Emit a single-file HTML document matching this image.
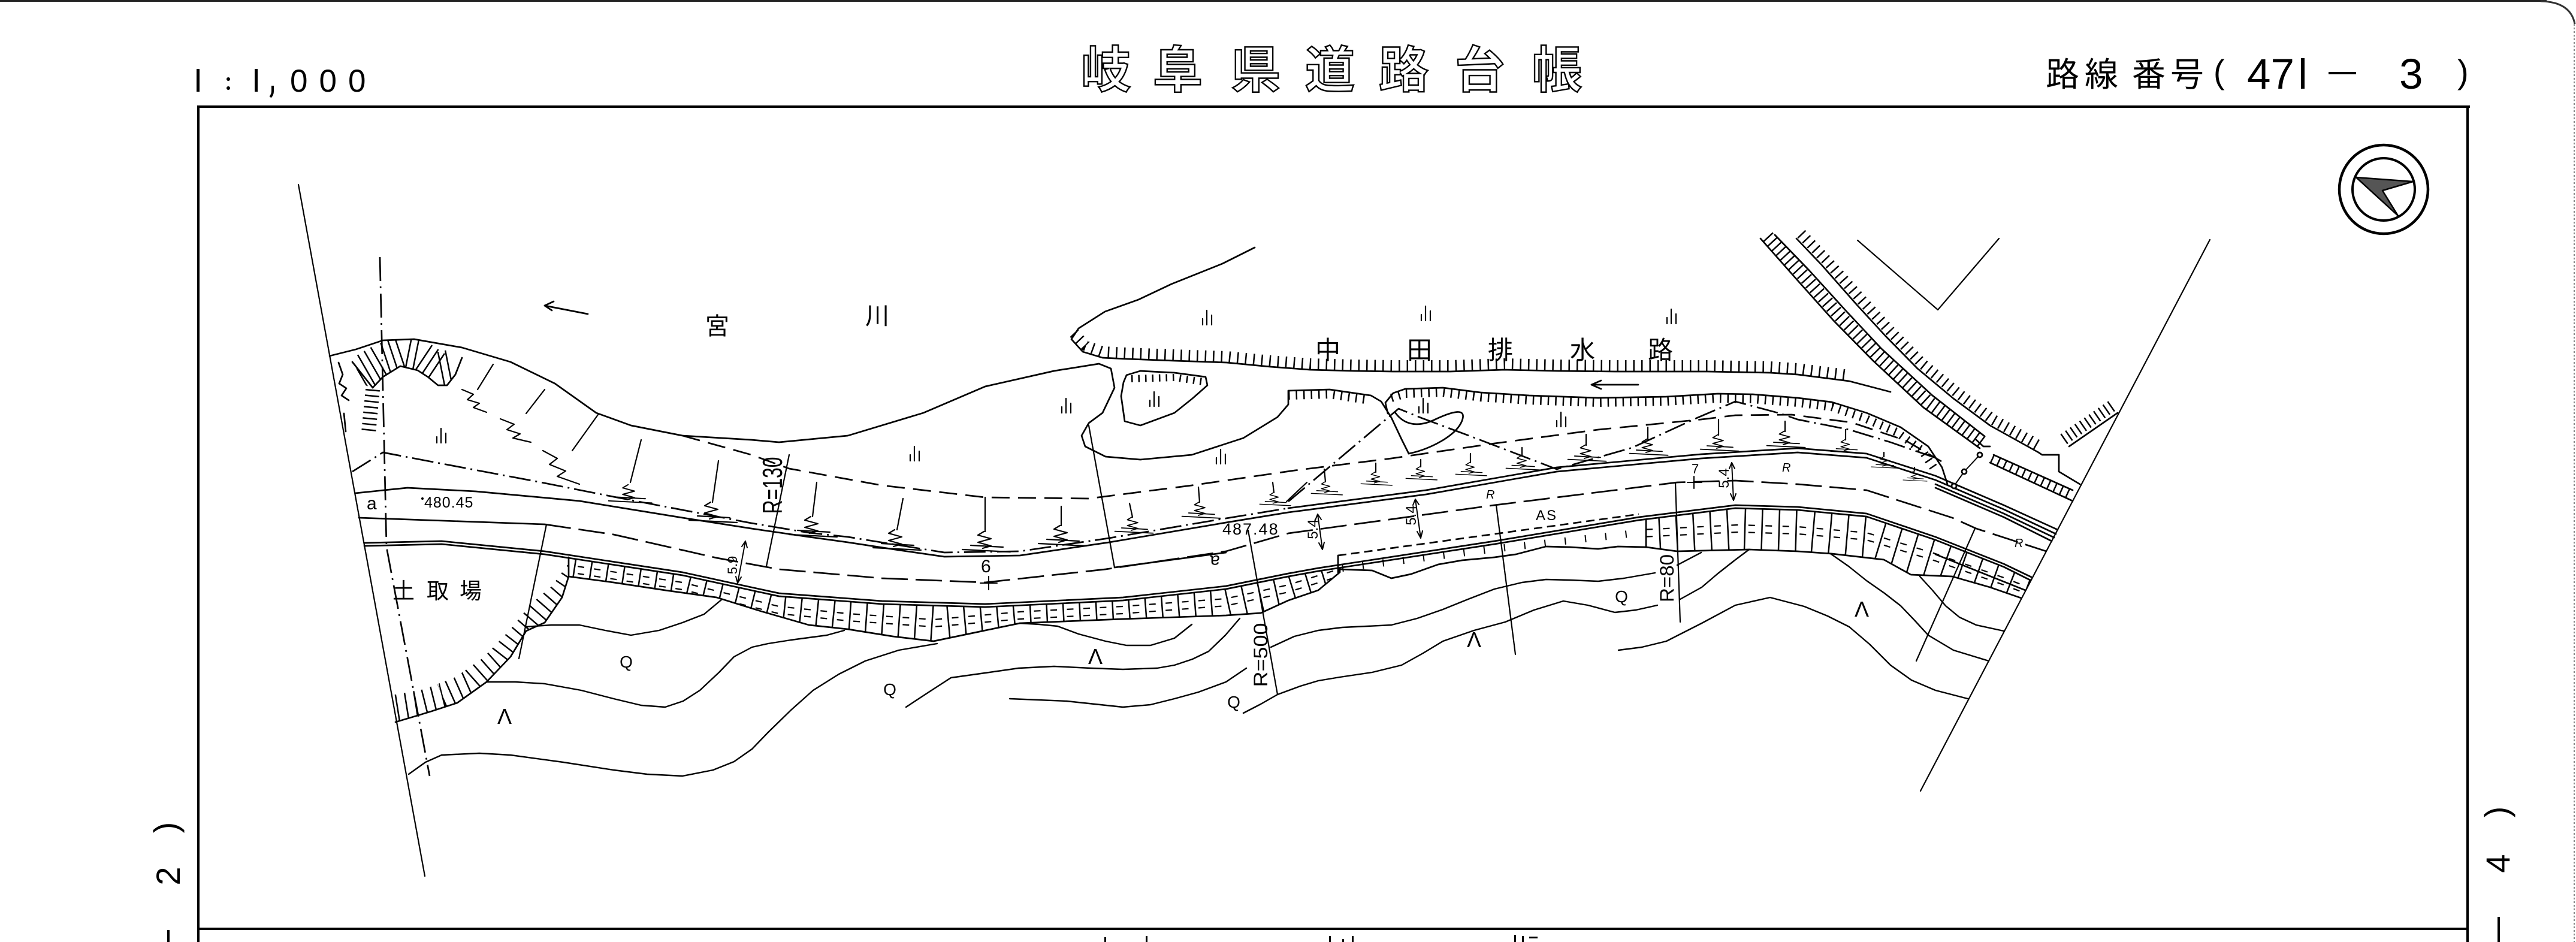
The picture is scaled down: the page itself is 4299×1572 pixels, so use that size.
<!DOCTYPE html>
<html><head><meta charset="utf-8">
<style>
html,body{margin:0;padding:0;background:#fff;}
svg{display:block;}
text{font-family:"Liberation Sans","Noto Sans CJK JP",sans-serif;}
.cjk{font-family:"Liberation Sans","Noto Sans CJK JP",sans-serif;}
</style></head><body>
<svg width="4299" height="1572" viewBox="0 0 4299 1572" xmlns="http://www.w3.org/2000/svg">
<rect width="4299" height="1572" fill="#fff"/>
<defs>
 <clipPath id="cb1"><polygon points="949,931 1139,960 1300,995 1472,1008 1644,1013 1874,1002 2046,983 2150,962 2200,953 2236,948 2236,955 2200,985 2150,1002 2104,1023 2046,1027 1874,1033 1702,1040 1630,1055 1558,1070 1490,1062 1415,1050 1350,1043 1270,1020 1196,997 1110,985 1024,972 949,962"/></clipPath>
 <clipPath id="cb2"><polygon points="2747,868 2896,848 3000,851 3115,862 3230,901 3344,946 3392,968 3373,998 3321,980 3258,962 3189,959 3144,934 3057,924 3000,920 2919,917 2799,920 2747,913"/></clipPath>
 <clipPath id="cb3"><polygon points="949,962 938,997 909,1039 878,1053 852,1096 812,1138 763,1173 720,1187 697,1194 660,1205 655,1160 708,1150 760,1130 806,1098 852,1050 886,1008 921,978 949,940"/></clipPath>
 <clipPath id="cb4"><polygon points="588,585 639,568 691,566 771,580 771,597 760,625 746,643 731,643 714,629 697,618 668,611 639,629 622,647 600,640"/></clipPath>
 <g id="zz"><polyline points="-2,-28 -12,-22 10,-16 -12,-10 10,-4 -4,0"/><line x1="-38" y1="2" x2="42" y2="6"/><line x1="-24" y1="-5" x2="30" y2="-2"/></g>
 <g id="ili"><path d="M-8,2V12 M-1,-12V12 M7,-4V12"/></g>
</defs>

<!-- page edges -->
<rect x="0" y="0" width="4250" height="3" fill="#222"/>
<path d="M4240,2 Q4290,3 4297,40" fill="none" stroke="#333" stroke-width="3"/>
<line x1="4296" y1="40" x2="4296" y2="1572" stroke="#888" stroke-width="2" stroke-dasharray="3 3"/>

<!-- header -->
<rect x="328" y="115" width="5" height="38" fill="#000"/>
<circle cx="381" cy="132" r="3" fill="#000"/><circle cx="381" cy="147" r="3" fill="#000"/>
<rect x="425" y="115" width="5" height="38" fill="#000"/>
<path d="M455,143 v9 q0,6 -4,10" fill="none" stroke="#000" stroke-width="4"/>
<text x="484" y="153" font-size="53" letter-spacing="19" fill="#000">000</text>

<g class="cjk" font-size="83" font-weight="700" fill="#fff" stroke="#000" stroke-width="2.4">
 <text x="1804" y="146">岐</text><text x="1924" y="146">阜</text><text x="2054" y="146">県</text><text x="2178" y="146">道</text><text x="2301" y="146">路</text><text x="2428" y="146">台</text><text x="2557" y="146">帳</text>
</g>

<g class="cjk" font-size="56" fill="#000">
 <text x="3414" y="144">路</text><text x="3479" y="144">線</text><text x="3558" y="144">番</text><text x="3622" y="144">号</text>
</g>
<text x="3694" y="139" font-size="56" fill="#000">(</text>
<text x="3750" y="148" font-size="71" fill="#000">47</text>
<rect x="3840" y="97" width="6" height="51" fill="#000"/>
<rect x="3886" y="120" width="46" height="4" fill="#000"/>
<text x="4004" y="148" font-size="71" fill="#000">3</text>
<text x="4101" y="139" font-size="56" fill="#000">)</text>

<!-- frame -->
<g fill="#000">
 <rect x="329" y="176" width="3793" height="4"/>
 <rect x="329" y="176" width="4" height="1396"/>
 <rect x="4116" y="176" width="4" height="1396"/>
 <rect x="329" y="1548" width="3791" height="4"/>
</g>

<!-- side labels -->
<g font-size="56" fill="#000" text-anchor="middle">
 <text transform="translate(296,1381) rotate(-90)">)</text>
 <text transform="translate(300,1462) rotate(-90)">2</text>
 <text transform="translate(4186,1355) rotate(-90)">)</text>
 <text transform="translate(4188,1441) rotate(-90)">4</text>
</g>
<rect x="279" y="1552" width="4" height="20" fill="#000"/>
<rect x="4168" y="1530" width="4" height="42" fill="#000"/>
<g fill="#000">
 <rect x="1843" y="1564" width="3" height="8"/><rect x="1912" y="1562" width="3" height="10"/>
 <rect x="2218" y="1562" width="3" height="10"/><rect x="2240" y="1567" width="3" height="5"/><rect x="2256" y="1562" width="3" height="10"/>
 <rect x="2527" y="1560" width="3" height="12"/><rect x="2540" y="1562" width="3" height="10"/><rect x="2552" y="1563" width="14" height="3"/>
</g>

<!-- compass -->
<circle cx="3978" cy="316" r="74" fill="none" stroke="#000" stroke-width="4.5"/>
<circle cx="3978" cy="316" r="52" fill="none" stroke="#000" stroke-width="4"/>
<polygon points="3932,296 4027,303 3976,318 4002,360" fill="#555" stroke="#000" stroke-width="2.5" stroke-linejoin="round"/>

<!-- MAP -->
<g fill="none" stroke="#000" stroke-width="2.7" stroke-linejoin="round" stroke-linecap="round">
 <!-- boundaries -->
 <line x1="498" y1="308" x2="709" y2="1462" stroke-width="2.2"/>
 <line x1="3688" y1="400" x2="3205" y2="1320" stroke-width="2.2"/>
 <polyline points="634,429 645,913 717,1295" stroke-dasharray="40 9 3 9" stroke-linecap="butt"/>

 <!-- river bank -->
 <polyline points="550,594 594,583 639,568 691,566 771,580 852,604 926,640 995,689 1053,710 1139,727 1254,734 1300,738 1415,727 1541,689 1644,645 1759,619 1834,607 1854,615 1860,647 1840,689 1817,706 1805,727 1811,745 1845,762 1903,767 1989,759 2075,731 2132,696 2150,675 2150,652 2219,650 2288,660 2305,670 2322,697 2339,733 2351,757"/>
 <polyline points="2150,660 2219,658 2285,668" stroke-width="14" stroke-dasharray="2.5 10" stroke-linecap="butt"/>
 <polyline points="622,647 639,629 668,611 697,618 714,629 731,643 746,643 760,625 771,597"/>
 <polyline points="600,625 640,602 670,592 700,598 730,618 760,612" stroke-width="60" stroke-dasharray="2.5 10" stroke-linecap="butt" clip-path="url(#cb4)"/>
 <polyline points="565,605 572,625 566,640 578,648 570,660 582,668"/>
 <line x1="588" y1="604" x2="622" y2="647"/>
 <polyline points="622,650 615,722" stroke-width="24" stroke-dasharray="2.5 7" stroke-linecap="butt"/>
 <line x1="574" y1="690" x2="577" y2="720"/>

 <!-- island -->
 <polyline points="1880,626 1903,619 1960,622 2012,629 2015,643 1990,665 1960,689 1903,710 1877,703 1871,661 1875,638 1880,626"/>
 <polyline points="1888,632 1960,630 2008,637" stroke-width="12" stroke-dasharray="2.5 9" stroke-linecap="butt"/>

 <!-- north bank of drainage -->
 <polyline points="2094,413 2040,440 1955,474 1900,500 1844,520 1800,548 1788,566 1807,587 1840,597 1881,599 1960,602 2047,605 2120,612 2186,617 2260,619 2325,620 2420,620 2510,617 2600,619 2695,620 2780,620 2850,620 2954,622 3000,625 3086,636 3155,654"/>
 <polyline points="1792,556 1812,577 1840,587 1881,589 1960,592 2047,595 2120,602 2186,607 2260,609 2325,610 2420,610 2510,607 2600,609 2695,610 2780,610 2850,610 2954,612 3000,615 3086,626" stroke-width="18" stroke-dasharray="2.5 11" stroke-linecap="butt"/>
 <!-- south bank B -->
 <polyline points="2316,690 2312,672 2325,656 2345,649 2408,647 2471,655 2552,660 2667,664 2781,662 2867,657 2925,658 3000,664 3057,671 3115,689 3172,713 3218,745 3241,780 3250,808"/>
 <polyline points="2322,664 2345,657 2408,655 2471,663 2552,668 2667,672 2781,670 2867,665 2925,666 3000,672 3057,679 3110,697 3165,721 3208,752 3230,785" stroke-width="14" stroke-dasharray="2.5 10" stroke-linecap="butt"/>
 <path d="M2328,688 C2345,712 2370,712 2395,700 C2425,686 2448,680 2440,702 C2430,728 2385,750 2351,757"/>
 <line x1="2656" y1="642" x2="2734" y2="642"/><polyline points="2672,635 2656,642 2672,649"/>
 <line x1="909" y1="510" x2="981" y2="524"/><polyline points="924,503 909,510 921,518"/>

 <!-- top of cut dashed / chain lines -->
 <polyline points="1139,727 1254,759 1317,782 1472,810 1644,830 1817,832 1989,810 2161,785 2322,765 2494,740 2667,717 2839,700 2896,693 2990,692 3090,705 3180,735 3240,770" stroke-dasharray="30 14" stroke-linecap="butt"/>
 <polyline points="588,787 639,755 760,778 898,804 1024,829 1139,851 1254,873 1350,889 1415,896 1576,922 1702,920 1851,898 2046,865 2150,848" stroke-dasharray="36 8 3 8" stroke-linecap="butt"/>
 <polyline points="2150,837 2334,682 2371,697 2454,728 2598,783 2724,747 2833,697 2896,670 2971,690 3000,700 3086,717 3155,738 3230,764" stroke-dasharray="36 8 3 8" stroke-linecap="butt"/>

 <!-- road -->
 <polyline points="593,823 680,814 794,820 967,836 1139,864 1254,882 1350,896 1415,905 1500,918 1576,929 1702,927 1851,905 2046,872 2150,855 2380,825 2598,787 2839,765 3000,755 3115,764 3230,801 3344,850 3431,891"/>
 <polyline points="2150,848 2380,818 2598,780 2839,758 3000,748 3115,757 3230,794 3344,843 3434,884"/>
 <polyline points="3230,808 3344,857 3428,897"/>
 <polyline points="3230,814 3344,863 3424,903"/>
 <polyline points="599,864 909,875"/>
 <polyline points="909,875 1024,892 1139,918 1196,931 1300,950 1472,965 1644,972 1845,950 2046,920 2150,890 2494,843 2799,805 2896,802 3000,808 3115,818 3258,864 3298,882 3415,920" stroke-dasharray="44 13" stroke-linecap="butt"/>
 <polyline points="1860,947 2046,922"/>
 <polyline points="608,906 737,903 909,920 1139,955 1300,990 1472,1003 1644,1008 1874,997 2046,978 2150,957 2200,948 2494,903 2735,863 2896,843 3000,846 3115,857 3230,896 3344,941 3390,963"/>
 <polyline points="608,911 737,908 909,925 1139,960 1300,995 1472,1008 1644,1013 1874,1002 2046,983 2150,962 2200,953 2494,908 2735,868 2896,848 3000,851 3115,862 3230,901 3344,946 3388,968"/>

 <!-- road slope band 1 -->
 <polyline points="949,930 949,962 1024,972 1110,985 1196,997 1270,1020 1350,1043 1415,1050 1490,1062 1558,1070 1630,1055 1702,1040 1874,1033 2046,1027 2104,1023 2150,1002 2200,985 2236,955 2236,948"/>
 <g clip-path="url(#cb1)" stroke-linecap="butt">
  <polyline points="930,946 1139,978 1300,1018 1415,1030 1558,1040 1702,1027 1874,1018 2046,1005 2150,982 2250,951" stroke-width="90" stroke-dasharray="2.5 25"/>
  <polyline points="930,940 1139,972 1300,1012 1415,1024 1558,1034 1702,1021 1874,1012 2046,999 2150,976 2250,945" stroke-width="2.2" stroke-dasharray="0 7 11 9.5"/>
  <polyline points="930,952 1139,984 1300,1024 1415,1036 1558,1046 1702,1033 1874,1024 2046,1011 2150,988 2250,957" stroke-width="2.2" stroke-dasharray="0 7 11 9.5"/>
 </g>
 <!-- rubble zone -->
 <polyline points="2233,927 2735,858" stroke-dasharray="14 8" stroke-linecap="butt"/>
 <line x1="2233" y1="927" x2="2233" y2="955"/>
 <polyline points="2236,950 2290,952 2322,965 2355,958 2400,942 2440,935 2494,930 2530,925 2580,912 2620,913 2667,916 2700,912 2747,913"/>
 <polyline points="2240,948 2494,916 2745,888" stroke-width="12" stroke-dasharray="2 32" stroke-linecap="butt"/>
 <!-- road slope band 2 -->
 <line x1="2747" y1="868" x2="2747" y2="913"/>
 <polyline points="2747,913 2799,920 2919,917 3000,920 3057,924 3144,934 3189,959 3258,962 3321,980 3373,998"/>
 <line x1="3230" y1="925" x2="3380" y2="985"/>
 <g clip-path="url(#cb2)" stroke-linecap="butt">
  <polyline points="2740,890 2900,882 3000,885 3115,895 3230,930 3344,970 3390,988" stroke-width="80" stroke-dasharray="2.5 26"/>
  <polyline points="2740,884 2900,876 3000,879 3115,889 3230,924 3344,964 3390,982" stroke-width="2.2" stroke-dasharray="0 7 11 10.5"/>
  <polyline points="2740,896 2900,888 3000,891 3115,901 3230,936 3344,976 3390,994" stroke-width="2.2" stroke-dasharray="0 7 11 10.5"/>
 </g>

 <!-- borrow pit slope -->
 <polyline points="949,962 938,997 909,1039 878,1053 852,1096 812,1138 763,1173 720,1187 697,1194 660,1205"/>
 <polyline points="955,948 930,985 895,1025 865,1060 830,1105 785,1145 740,1165 700,1175 650,1183" stroke-width="100" stroke-dasharray="2.5 13" stroke-linecap="butt" clip-path="url(#cb3)"/>

 <!-- perpendicular lines -->
 <line x1="912" y1="875" x2="866" y2="1099" stroke-width="2.2"/>
 <line x1="1317" y1="759" x2="1279" y2="945" stroke-width="2.2"/>
 <line x1="1817" y1="710" x2="1860" y2="947" stroke-width="2.2"/>
 <line x1="2083" y1="885" x2="2132" y2="1159" stroke-width="2.2"/>
 <line x1="2497" y1="843" x2="2529" y2="1092" stroke-width="2.2"/>
 <line x1="2796" y1="805" x2="2804" y2="1038" stroke-width="2.2"/>
 <line x1="3296" y1="882" x2="3198" y2="1103" stroke-width="2.2"/>

 <!-- contours -->
 <g stroke-width="2.4">
  <polyline points="878,1046 920,1043 967,1043 1010,1052 1053,1060 1100,1052 1139,1039 1175,1025 1205,1000"/>
  <polyline points="812,1138 860,1138 909,1141 970,1152 1024,1166 1070,1177 1110,1180 1140,1170 1168,1152 1200,1122 1225,1096 1255,1080 1282,1074 1320,1068 1350,1064 1380,1060 1409,1052"/>
  <polyline points="682,1292 710,1272 737,1260 800,1257 852,1260 940,1272 1024,1285 1080,1292 1139,1295 1190,1285 1225,1271 1255,1250 1282,1222 1320,1185 1357,1152 1400,1125 1444,1103 1500,1085 1564,1074"/>
  <polyline points="1512,1180 1550,1155 1587,1131 1644,1123 1700,1115 1759,1112 1820,1115 1874,1117 1931,1115 1960,1110 1990,1100 2017,1087 2045,1060 2069,1032"/>
  <polyline points="1702,1040 1735,1042 1765,1045 1800,1058 1845,1070 1880,1077 1920,1077 1960,1065 1989,1042"/>
  <polyline points="1685,1166 1780,1170 1874,1180 1920,1176 1960,1166 2000,1155 2046,1138 2080,1115"/>
  <polyline points="2121,1080 2160,1062 2200,1052 2240,1047 2282,1045 2322,1043 2365,1032 2408,1017 2450,1000 2494,983 2540,972 2580,967 2620,968 2667,970 2710,965 2762,956"/>
  <polyline points="2799,943 2839,922"/>
  <polyline points="2075,1190 2104,1175 2132,1159 2170,1145 2200,1136 2236,1130 2290,1122 2339,1110 2375,1090 2408,1070 2460,1052 2512,1038 2560,1018 2609,1003 2650,1010 2695,1022 2730,1018 2766,1010"/>
  <polyline points="2804,1000 2840,980 2867,957 2895,935 2919,917"/>
  <polyline points="2701,1085 2740,1080 2781,1070 2840,1040 2896,1010 2954,997 3011,1012 3050,1028 3086,1046 3120,1075 3155,1110 3190,1135 3230,1152 3284,1166"/>
  <polyline points="3055,924 3085,945 3115,969 3145,990 3172,1011 3195,1035 3218,1060 3260,1085 3319,1103"/>
  <polyline points="3204,962 3225,985 3247,1011 3270,1030 3298,1043 3344,1053"/>
 </g>

 <!-- slope marks -->
 <g stroke-width="2.2">
  <line x1="1363" y1="805" x2="1356" y2="862"/><use href="#zz" transform="translate(1355,890)"/>
  <line x1="1507" y1="832" x2="1497" y2="884"/><use href="#zz" transform="translate(1495,912)"/>
  <line x1="1644" y1="830" x2="1644" y2="887"/><use href="#zz" transform="translate(1644,915)"/>
  <line x1="1771" y1="845" x2="1771" y2="877"/><use href="#zz" transform="translate(1771,905)"/>
  <line x1="1885" y1="840" x2="1890" y2="863"/><use href="#zz" transform="translate(1891,885) scale(0.8)"/>
  <line x1="2000" y1="813" x2="2002" y2="838"/><use href="#zz" transform="translate(2003,860) scale(0.8)"/>
  <line x1="2124" y1="805" x2="2126" y2="822"/><use href="#zz" transform="translate(2127,840) scale(0.65)"/>
  <line x1="2181" y1="805" x2="2147" y2="837"/>
  <line x1="2210" y1="783" x2="2212" y2="804"/><use href="#zz" transform="translate(2213,822) scale(0.65)"/>
  <line x1="2296" y1="773" x2="2296" y2="788"/><use href="#zz" transform="translate(2296,806) scale(0.65)"/>
  <line x1="2371" y1="767" x2="2371" y2="779"/><use href="#zz" transform="translate(2371,797) scale(0.65)"/>
  <line x1="2454" y1="757" x2="2454" y2="772"/><use href="#zz" transform="translate(2454,790) scale(0.65)"/>
  <line x1="2540" y1="747" x2="2540" y2="760"/><use href="#zz" transform="translate(2540,780) scale(0.7)"/>
  <line x1="2647" y1="725" x2="2647" y2="743"/><use href="#zz" transform="translate(2647,765) scale(0.8)"/>
  <line x1="2750" y1="713" x2="2750" y2="733"/><use href="#zz" transform="translate(2750,755) scale(0.8)"/>
  <line x1="2868" y1="700" x2="2868" y2="726"/><use href="#zz" transform="translate(2868,748) scale(0.8)"/>
  <line x1="2979" y1="703" x2="2979" y2="720"/><use href="#zz" transform="translate(2979,742) scale(0.8)"/>
  <line x1="3080" y1="717" x2="3080" y2="734"/><use href="#zz" transform="translate(3080,752) scale(0.65)"/>
  <line x1="3144" y1="755" x2="3144" y2="762"/><use href="#zz" transform="translate(3144,778) scale(0.55)"/>
  <line x1="3195" y1="780" x2="3195" y2="786"/><use href="#zz" transform="translate(3195,800) scale(0.5)"/>
  <!-- left diagonal marks -->
  <line x1="823" y1="608" x2="797" y2="650"/><polyline points="771,650 790,658 780,667 800,673 790,680 812,688"/>
  <line x1="909" y1="650" x2="878" y2="690"/><polyline points="835,699 858,708 846,717 868,724 856,731 886,738"/>
  <line x1="998" y1="692" x2="955" y2="752"/><polyline points="906,752 930,765 917,775 944,786 930,795 967,808"/>
  <line x1="1070" y1="734" x2="1052" y2="805"/><use href="#zz" transform="translate(1050,834) scale(0.9)"/>
  <line x1="1199" y1="769" x2="1189" y2="838"/><use href="#zz" transform="translate(1188,866)"/>
 </g>

 <!-- dimension arrows -->
 <g stroke-width="2">
  <line x1="1244" y1="903" x2="1231" y2="973"/><polyline points="1238,912 1244,903 1247,914"/><polyline points="1228,962 1231,973 1237,963"/>
  <line x1="2199" y1="858" x2="2207" y2="917"/><polyline points="2195,868 2199,858 2205,867"/><polyline points="2201,906 2207,917 2210,905"/>
  <line x1="2362" y1="833" x2="2371" y2="898"/><polyline points="2358,843 2362,833 2368,842"/><polyline points="2365,887 2371,898 2374,886"/>
  <line x1="2890" y1="772" x2="2893" y2="835"/><polyline points="2886,782 2890,772 2895,782"/><polyline points="2888,824 2893,835 2897,824"/>
  <line x1="2816" y1="805" x2="2840" y2="805"/><line x1="2827" y1="795" x2="2827" y2="815"/>
  <line x1="1636" y1="973" x2="1664" y2="973"/><line x1="1650" y1="962" x2="1650" y2="984"/>
 </g>

 <!-- railway band & right area -->
 <polyline points="2938,398 3000,468 3060,535 3126,602 3210,680 3304,748"/>
 <polyline points="2962,392 3020,452 3080,518 3140,582 3225,660 3312,728"/>
 <polyline points="2950,395 3010,460 3070,527 3133,592 3217,670 3308,738" stroke-width="22" stroke-dasharray="2.5 8" stroke-linecap="butt"/>
 <polyline points="2998,398 3040,442 3100,510 3146,560 3200,615 3260,665 3321,710 3402,755"/>
 <polyline points="3006,390 3048,434 3108,502 3154,552 3208,607 3266,655 3326,700 3405,745" stroke-width="18" stroke-dasharray="2.5 9" stroke-linecap="butt"/>
 <polyline points="3298,734 3310,745 3321,745"/>
 <line x1="3327" y1="759" x2="3459" y2="818"/>
 <line x1="3321" y1="772" x2="3459" y2="836"/>
 <line x1="3324" y1="765" x2="3459" y2="827" stroke-width="14" stroke-dasharray="2.5 9" stroke-linecap="butt"/>
 <polyline points="3402,755 3408,759 3436,759 3436,787 3471,808"/>
 <line x1="3453" y1="745" x2="3534" y2="689"/>
 <line x1="3444" y1="733" x2="3525" y2="677" stroke-width="20" stroke-dasharray="2.5 7" stroke-linecap="butt"/>
 <polyline points="3304,759 3278,787 3261,811" stroke-width="2"/>
 <circle cx="3304" cy="759" r="4" fill="#fff"/><circle cx="3278" cy="787" r="4" fill="#fff"/><circle cx="3261" cy="811" r="4" fill="#fff"/>
 <polyline points="3100,401 3234,517 3336,398" stroke-width="2.2"/>

 <!-- grass symbols -->
 <g stroke-width="2.2">
  <use href="#ili" transform="translate(2015,530)"/><use href="#ili" transform="translate(2380,523)"/><use href="#ili" transform="translate(2790,528)"/>
  <use href="#ili" transform="translate(1927,666)"/><use href="#ili" transform="translate(1780,677)"/><use href="#ili" transform="translate(2376,677)"/>
  <use href="#ili" transform="translate(2606,700)"/><use href="#ili" transform="translate(1527,757)"/><use href="#ili" transform="translate(2038,762)"/>
  <use href="#ili" transform="translate(737,727)"/>
 </g>
</g>

<!-- map labels -->
<g fill="#000">
 <g class="cjk" font-size="40">
  <text x="1177" y="558">宮</text><text x="1444" y="541">川</text>
 </g>
 <g class="cjk" font-size="42">
  <text x="2195" y="599">中</text><text x="2348" y="599">田</text><text x="2483" y="599">排</text><text x="2620" y="599">水</text><text x="2750" y="599">路</text>
 </g>
 <g class="cjk" font-size="37">
  <text x="655" y="999">土</text><text x="712" y="999">取</text><text x="767" y="999">場</text>
 </g>
 <text x="612" y="850" font-size="30">a</text>
 <text transform="translate(2036,927) rotate(180)" font-size="30">a</text>
 <circle cx="705" cy="832" r="2"/>
 <text x="708" y="847" font-size="25" letter-spacing="1">480.45</text>
 <text x="2040" y="892" font-size="27" letter-spacing="2">487.48</text>
 <text x="1637" y="955" font-size="30">6</text>
 <text x="2823" y="790" font-size="22">7</text>
 <text x="2563" y="868" font-size="24" letter-spacing="2">AS</text>
 <g font-size="20" font-style="italic">
  <text x="2480" y="832">R</text><text x="2974" y="787">R</text><text x="3362" y="913">R</text>
 </g>
 <g text-anchor="middle">
  <text transform="translate(1305,810) rotate(-90)" font-size="46" textLength="95" lengthAdjust="spacingAndGlyphs">R=130</text>
  <text transform="translate(2115,1093) rotate(-90)" font-size="32" textLength="107" lengthAdjust="spacingAndGlyphs">R=500</text>
  <text transform="translate(2793,965) rotate(-90)" font-size="32" textLength="80" lengthAdjust="spacingAndGlyphs">R=80</text>
  <text transform="translate(1230,943) rotate(-90)" font-size="22">5.9</text>
  <text transform="translate(2199,883) rotate(-90)" font-size="24">5.4</text>
  <text transform="translate(2363,860) rotate(-90)" font-size="24">5.4</text>
  <text transform="translate(2885,798) rotate(-90)" font-size="24">5.4</text>
 </g>
 <g font-size="28" text-anchor="middle">
  <text x="1045" y="1114">Q</text><text x="1485" y="1160">Q</text><text x="2059" y="1181">Q</text><text x="2706" y="1005">Q</text>
 </g>
 <g font-size="36" text-anchor="middle">
  <text x="842" y="1208">Λ</text><text x="1828" y="1108">Λ</text><text x="2460" y="1080">Λ</text><text x="3107" y="1029">Λ</text>
 </g>
</g>
</svg>
</body></html>
